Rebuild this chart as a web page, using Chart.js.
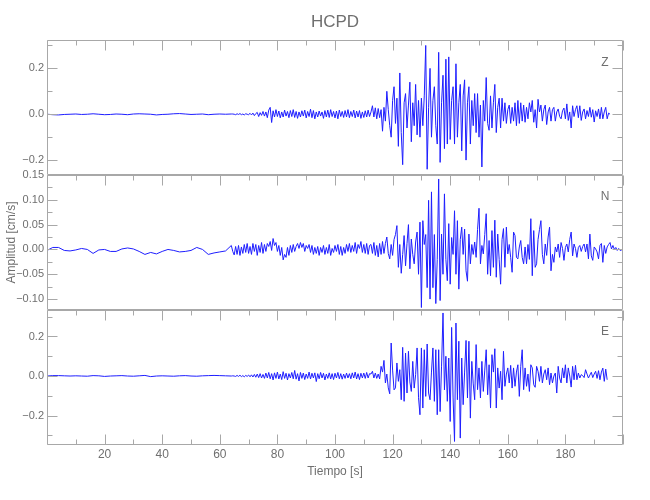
<!DOCTYPE html>
<html>
<head>
<meta charset="utf-8">
<title>HCPD</title>
<script src="https://cdn.jsdelivr.net/npm/chart.js@4.4.1/dist/chart.umd.min.js"></script>
<style>
  body { margin: 0; background: #fff; }
  #lienzo { position: relative; width: 650px; height: 500px; }
  #lienzo > div { position: absolute; left: 0; width: 650px; }
</style>
</head>
<body>
<div id="lienzo">
  <div style="top:0;height:185px"><canvas id="trazaZ"></canvas></div>
  <div style="top:165px;height:155px"><canvas id="trazaN"></canvas></div>
  <div style="top:300px;height:200px"><canvas id="trazaE"></canvas></div>
</div>
<script>
const FUENTE = "'Liberation Sans', Arial, sans-serif";
const GRIS_TEXTO = '#6f6f6f';
const GRIS_MARCO = '#a8a8a8';
const AZUL = 'rgb(30,30,255)';

// Sample times: every 2 s in the quiet part, every 0.5 s after 64 s
const tiempo = [];
for (let t = 0; t <= 64; t += 2) tiempo.push(t);
for (let t = 64.5; t <= 200; t += 0.5) tiempo.push(t);

// Axis ticks
const etiquetasX = [20, 40, 60, 80, 100, 120, 140, 160, 180];
const marcasX = [0, 10, 20, 30, 40, 50, 60, 70, 80, 90, 100, 110, 120, 130, 140, 150, 160, 170, 180, 190, 200];
const rangoZ = [-0.265, 0.322];
const rangoN = [-0.122, 0.150];
const rangoE = [-0.349, 0.334];
const marcasZ = [-0.2, 0.0, 0.2];
const menoresZ = [-0.1, 0.1, 0.3];
const marcasN = [-0.10, -0.05, 0.00, 0.05, 0.10, 0.15];
const menoresN = [-0.075, -0.025, 0.025, 0.075, 0.125];
const marcasE = [-0.2, 0.0, 0.2];
const menoresE = [-0.3, -0.1, 0.1, 0.3];

// Component Z (cm/s)
const ondaZ = [
  0.000, -0.002, -0.003, -0.001, 0.000, 0.001, -0.001, 0.000, 0.002, 0.000,
  -0.002, -0.001, 0.001, 0.000, -0.002, 0.001, 0.002, 0.001, 0.000, -0.003,
  -0.001, 0.000, 0.002, 0.003, 0.001, -0.001, 0.000, 0.001, -0.002, 0.000,
  0.001, 0.000, 0.001,
  // 64.5 - 70
  0.001, 0.000, -0.002, 0.002, -0.001, 0.003, -0.002, 0.001, -0.003, 0.002, 0.000, -0.002,
  0.004, -0.003, 0.005, -0.006, 0.003, 0.008, -0.010, 0.007, -0.005, 0.012,
  -0.008, 0.010, -0.015, 0.018, 0.030, -0.036, 0.015, -0.012, 0.020, -0.010,
  0.014, -0.016, 0.010, -0.012, 0.018, -0.008, 0.012, -0.015, 0.016, -0.010,
  0.020, -0.014, 0.012, -0.018, 0.010, -0.012, 0.015, -0.008, 0.018, -0.016,
  0.012, -0.010, 0.022, -0.015, 0.016, -0.020, 0.010, -0.012, 0.014, -0.008,
  0.010, -0.018, 0.016, -0.012, 0.018, -0.014, 0.020, -0.010, 0.012, -0.016,
  0.014, -0.020, 0.018, -0.010, 0.012, -0.014, 0.016, -0.012, 0.020, -0.015,
  0.012, -0.010, 0.018, -0.016, 0.014, -0.012, 0.016, -0.018, 0.010, -0.014,
  0.015, -0.012, 0.018, -0.010,
  // 112.5 - 117
  0.010, 0.037, -0.012, 0.028, -0.020, 0.025, -0.015, 0.020, -0.074, 0.030,
  -0.030, 0.100, 0.020, -0.050, -0.100, 0.060, 0.120, -0.040, 0.070, -0.140,
  0.180, -0.080, -0.220, 0.050, 0.090, -0.060, 0.040, 0.140, -0.120, 0.050,
  -0.050, 0.130, -0.090, 0.060, -0.100, 0.070, -0.050, 0.080, 0.300, -0.240,
  0.030, 0.200, -0.100, 0.060, 0.120, -0.050, -0.130, 0.270, -0.210, 0.050,
  0.170, -0.150, 0.240, -0.130, 0.250, -0.110, 0.060, 0.120, -0.130, 0.220,
  -0.100, 0.050, 0.130, -0.160, 0.080, 0.150, -0.200, 0.050, 0.120, -0.130,
  0.060, -0.050, 0.090, -0.080, 0.090, -0.100, 0.040, -0.230, 0.060, -0.030,
  0.160, -0.040, -0.070, 0.080, -0.060, 0.050, 0.130, -0.080, 0.030, 0.070,
  -0.060, 0.070, -0.030, 0.050, -0.040, 0.020, 0.040, -0.040, 0.030, -0.030,
  0.050, -0.050, 0.060, -0.040, 0.050, -0.030, 0.040, -0.035, 0.030, -0.020,
  0.050, 0.010, 0.060, -0.035, 0.020, -0.060, 0.065, 0.010, 0.040, -0.030,
  0.020, 0.040, -0.045, 0.010, 0.030, -0.030, 0.020, 0.030, -0.030, 0.010,
  0.023, -0.010, -0.020, 0.015, 0.027, -0.020, 0.045, -0.027, 0.010, -0.060,
  0.037, -0.010, 0.020, 0.037, -0.015, 0.037, -0.027, 0.010, 0.023, -0.020,
  0.016, -0.010, 0.030, -0.013, 0.020, -0.034, 0.015, -0.010, 0.023, -0.020,
  0.030, -0.020, 0.010, 0.030, -0.020, 0.005, 0.000
];

// Component N (cm/s)
const ondaN = [
  -0.002, 0.004, 0.004, -0.002, -0.003, -0.001, 0.002, 0.000, -0.008, -0.001,
  0.000, -0.004, -0.004, 0.001, 0.003, 0.001, -0.004, -0.010, -0.006, -0.009,
  -0.004, 0.000, -0.002, -0.005, -0.004, -0.002, 0.004, 0.000, -0.010, -0.007,
  -0.005, -0.003, 0.008,
  // 64.5 - 70
  -0.004, -0.011, 0.006, -0.010, 0.008, -0.012, 0.005, -0.008, 0.010, -0.006, 0.012, -0.008,
  0.006, -0.010, 0.012, -0.004, 0.010, -0.012, 0.008, -0.006, 0.014, -0.008,
  0.010, -0.004, 0.012, 0.006, 0.016, -0.002, 0.022, 0.008, 0.014, -0.004,
  0.008, -0.012, 0.004, -0.021, -0.010, -0.016, 0.004, -0.012, 0.008, -0.006,
  0.010, -0.004, 0.006, 0.012, 0.002, 0.014, 0.004, 0.012, -0.004, 0.008,
  0.002, 0.010, -0.006, 0.008, -0.010, 0.004, -0.008, 0.006, -0.012, 0.004,
  -0.006, 0.008, -0.010, 0.004, -0.008, 0.010, -0.012, 0.002, -0.006, 0.008,
  -0.004, 0.010, -0.010, 0.006, -0.012, 0.004, -0.008, 0.010, -0.004, 0.012,
  -0.006, 0.008, -0.004, 0.014, -0.008, 0.010, 0.002, 0.016, -0.006, 0.010,
  -0.008, 0.012, -0.010, 0.008,
  // 112.5 - 117
  0.010, -0.008, 0.014, -0.012, 0.008, -0.015, 0.012, -0.010, 0.016, -0.008,
  0.012, 0.025, -0.008, -0.019, 0.010, -0.012, 0.020, 0.030, 0.048, -0.036,
  0.010, -0.048, -0.010, 0.028, -0.033, 0.012, 0.050, -0.039, 0.021, -0.010,
  -0.029, 0.015, 0.035, -0.050, 0.055, -0.117, 0.058, 0.010, 0.030, -0.077,
  0.099, -0.100, 0.116, -0.077, 0.030, -0.109, -0.020, 0.142, -0.103, 0.031,
  -0.050, 0.112, -0.020, -0.063, 0.052, -0.070, 0.024, -0.010, 0.078, -0.050,
  0.058, -0.080, 0.020, 0.045, -0.010, 0.041, -0.043, -0.064, 0.031, -0.029,
  0.010, -0.010, 0.015, -0.016, 0.040, 0.083, -0.029, 0.008, -0.009, 0.030,
  0.072, -0.050, 0.018, -0.053, 0.038, -0.036, 0.059, -0.056, 0.031, -0.020,
  -0.070, 0.020, 0.042, -0.036, 0.045, -0.009, 0.010, -0.016, -0.046, 0.035,
  0.028, -0.016, -0.019, 0.005, 0.018, -0.016, -0.029, 0.005, -0.029, 0.010,
  -0.020, 0.062, -0.053, 0.038, -0.036, -0.029, 0.020, 0.040, 0.058, -0.010,
  -0.029, 0.011, -0.012, 0.025, 0.045, -0.043, -0.010, -0.026, 0.005, -0.005,
  0.011, -0.016, 0.014, 0.002, -0.022, 0.004, 0.011, -0.005, 0.020, 0.035,
  -0.013, 0.011, 0.002, -0.016, 0.004, 0.008, -0.004, 0.006, 0.011, -0.005,
  0.011, -0.019, 0.031, -0.013, -0.022, 0.005, 0.001, -0.005, -0.019, 0.008,
  0.012, -0.026, 0.008, -0.008, 0.005, 0.010, 0.014, 0.001, 0.008, 0.000,
  0.004, -0.002, 0.002, -0.002, -0.001, -0.002
];

// Component E (cm/s)
const ondaE = [
  0.000, 0.002, 0.002, 0.001, 0.000, 0.001, 0.000, -0.001, 0.002, 0.001,
  -0.002, 0.000, 0.001, 0.002, 0.000, -0.001, 0.001, 0.003, -0.003, 0.000,
  0.001, 0.000, -0.001, 0.001, 0.002, 0.000, -0.001, 0.001, 0.002, 0.003,
  0.002, 0.001, 0.000,
  // 64.5 - 70
  0.001, 0.000, -0.002, 0.003, -0.002, 0.004, -0.003, 0.002, -0.004, 0.003, -0.002, 0.005,
  -0.004, 0.006, -0.005, 0.008, -0.006, 0.010, -0.008, 0.012, -0.010, 0.008,
  -0.012, 0.015, -0.010, 0.018, -0.014, 0.012, -0.020, 0.016, -0.012, 0.020,
  -0.015, 0.010, -0.018, 0.022, -0.012, 0.014, -0.020, 0.012, -0.010, 0.018,
  -0.014, 0.028, -0.016, 0.012, -0.025, 0.018, -0.012, 0.015, -0.018, 0.010,
  -0.012, 0.020, -0.015, 0.014, -0.010, 0.016, -0.028, 0.012, -0.014, 0.018,
  -0.010, 0.014, -0.020, 0.010, -0.012, 0.016, -0.015, 0.012, -0.018, 0.014,
  -0.010, 0.018, -0.014, 0.012, -0.016, 0.010, -0.012, 0.015, -0.010, 0.012,
  -0.014, 0.016, -0.010, 0.020, -0.015, 0.012, -0.018, 0.014, -0.010, 0.015,
  -0.012, 0.018, -0.010, 0.012,
  // 112.5 - 117
  0.010, 0.024, -0.010, 0.015, -0.012, 0.010, -0.015, 0.049, 0.020, 0.079,
  -0.035, 0.010, -0.060, -0.090, 0.167, 0.030, -0.070, -0.060, 0.066, -0.027,
  0.032, -0.120, 0.145, -0.128, 0.116, -0.086, 0.125, -0.030, -0.078, 0.074,
  -0.061, 0.007, 0.142, -0.110, -0.196, 0.142, -0.162, 0.133, -0.103, 0.162,
  -0.086, -0.120, 0.020, 0.142, -0.128, 0.133, -0.196, 0.133, -0.180, 0.050,
  0.319, -0.070, 0.100, -0.128, 0.091, -0.230, 0.246, -0.111, -0.331, 0.268,
  -0.120, 0.176, -0.314, 0.091, -0.145, 0.020, 0.180, -0.111, 0.176, -0.213,
  0.074, -0.040, -0.120, 0.159, -0.069, 0.041, -0.111, 0.074, -0.078, 0.030,
  0.133, -0.095, 0.057, -0.162, 0.108, 0.020, 0.138, -0.162, 0.041, -0.061,
  0.024, -0.120, 0.125, -0.052, 0.010, 0.041, -0.035, 0.054, -0.061, 0.041,
  -0.052, 0.020, 0.057, -0.103, 0.049, 0.133, -0.069, 0.041, -0.052, 0.010,
  -0.078, 0.057, 0.041, -0.044, -0.057, 0.049, 0.024, -0.027, 0.049, -0.035,
  0.010, 0.032, -0.019, 0.041, -0.044, 0.015, -0.035, 0.000, 0.015, -0.086,
  0.049, -0.010, -0.035, 0.041, -0.010, 0.057, -0.035, 0.041, 0.000, -0.056,
  0.049, -0.019, 0.054, -0.019, 0.015, -0.010, 0.007, 0.002, -0.008, 0.032,
  0.010, -0.010, 0.005, 0.019, -0.008, 0.010, 0.024, -0.012, 0.027, -0.019,
  0.020, 0.040, -0.027, 0.035, -0.019
];

// Format a tick value the way the original plot does (long minus sign)
function formato(v, dec) {
  const s = Math.abs(v).toFixed(dec);
  return v < -1e-9 ? '\u2212' + s : s;
}

// Frame with inward ticks on all four sides, plus the channel name
const marcoIDL = {
  id: 'marcoIDL',
  afterDatasetsDraw(chart, args, o) {
    const ctx = chart.ctx;
    const a = chart.chartArea;
    const sx = chart.scales.x;
    const sy = chart.scales.y;
    const izq = Math.round(a.left) + 0.5, der = Math.round(a.right) - 0.5;
    const arr = Math.round(a.top) + 0.5, aba = Math.round(a.bottom) - 0.5;
    ctx.save();
    ctx.strokeStyle = GRIS_MARCO;
    ctx.lineWidth = 1;
    ctx.beginPath();
    ctx.rect(izq, arr, der - izq, aba - arr);
    marcasX.forEach(function(v) {
      const x = Math.round(sx.getPixelForValue(v)) + 0.5;
      const largo = v % 20 === 0 ? 10 : 5;
      ctx.moveTo(x, arr); ctx.lineTo(x, arr + largo);
      if (o.abajo) { ctx.moveTo(x, aba); ctx.lineTo(x, aba - largo); }
    });
    function marca(v, largo) {
      const y = Math.round(sy.getPixelForValue(v)) + 0.5;
      ctx.moveTo(izq, y); ctx.lineTo(izq + largo, y);
      ctx.moveTo(der, y); ctx.lineTo(der - largo, y);
    }
    o.mayores.forEach(function(v) { marca(v, 10); });
    o.menores.forEach(function(v) { marca(v, 5); });
    ctx.stroke();
    ctx.fillStyle = GRIS_TEXTO;
    ctx.font = '12px ' + FUENTE;
    ctx.textAlign = 'center';
    ctx.textBaseline = 'middle';
    ctx.fillText(o.canal, a.right - 18, a.top + 22);
    ctx.restore();
  }
};

function crearPanel(id, onda, rango, mayores, menores, dec, extra) {
  const puntos = onda.map(function(v, i) { return { x: tiempo[i], y: v }; });
  return new Chart(document.getElementById(id), {
    type: 'line',
    data: {
      datasets: [{
        data: puntos,
        borderColor: AZUL,
        borderWidth: 1,
        pointRadius: 0,
        tension: 0,
        fill: false
      }]
    },
    options: {
      responsive: true,
      maintainAspectRatio: false,
      animation: false,
      layout: { padding: { left: 0, right: 27, top: extra.arriba, bottom: extra.debajo } },
      plugins: {
        legend: { display: false },
        tooltip: { enabled: false },
        title: {
          display: !!extra.titulo,
          text: extra.titulo || '',
          color: GRIS_TEXTO,
          font: { family: FUENTE, size: 17, weight: 'normal' },
          padding: { top: 12, bottom: 8 },
          fullSize: false
        },
        marcoIDL: { canal: extra.canal, mayores: mayores, menores: menores, abajo: !!extra.ejeX }
      },
      scales: {
        x: {
          type: 'linear',
          min: 0,
          max: 200,
          display: !!extra.ejeX,
          grid: { display: false, drawTicks: false },
          border: { display: false },
          afterBuildTicks: function(s) { s.ticks = etiquetasX.map(function(v) { return { value: v }; }); },
          afterFit: function(s) { s.height = extra.ejeX ? 34 : 0; },
          ticks: {
            color: GRIS_TEXTO,
            font: { family: FUENTE, size: 12 },
            padding: 2,
            maxRotation: 0,
            autoSkip: false
          },
          title: {
            display: true,
            text: 'Tiempo [s]',
            color: GRIS_TEXTO,
            font: { family: FUENTE, size: 12 },
            padding: { top: 3, bottom: 0 }
          }
        },
        y: {
          type: 'linear',
          min: rango[0],
          max: rango[1],
          grid: { display: false, drawTicks: false },
          border: { display: false },
          afterBuildTicks: function(s) { s.ticks = mayores.map(function(v) { return { value: v }; }); },
          afterFit: function(s) { s.width = 47; },
          ticks: {
            color: GRIS_TEXTO,
            font: { family: FUENTE, size: 11 },
            padding: 3,
            callback: function(v) { return formato(v, dec); }
          },
          title: {
            display: !!extra.tituloY,
            text: extra.tituloY || '',
            color: GRIS_TEXTO,
            font: { family: FUENTE, size: 12 },
            padding: { top: 4, bottom: 0 }
          }
        }
      }
    },
    plugins: [marcoIDL]
  });
}

crearPanel('trazaZ', ondaZ, rangoZ, marcasZ, menoresZ, 1,
  { canal: 'Z', titulo: 'HCPD', arriba: 0, debajo: 10 });
crearPanel('trazaN', ondaN, rangoN, marcasN, menoresN, 2,
  { canal: 'N', tituloY: 'Amplitud [cm/s]', arriba: 10, debajo: 10 });
crearPanel('trazaE', ondaE, rangoE, marcasE, menoresE, 1,
  { canal: 'E', ejeX: true, arriba: 10, debajo: 21 });
</script>
</body>
</html>
